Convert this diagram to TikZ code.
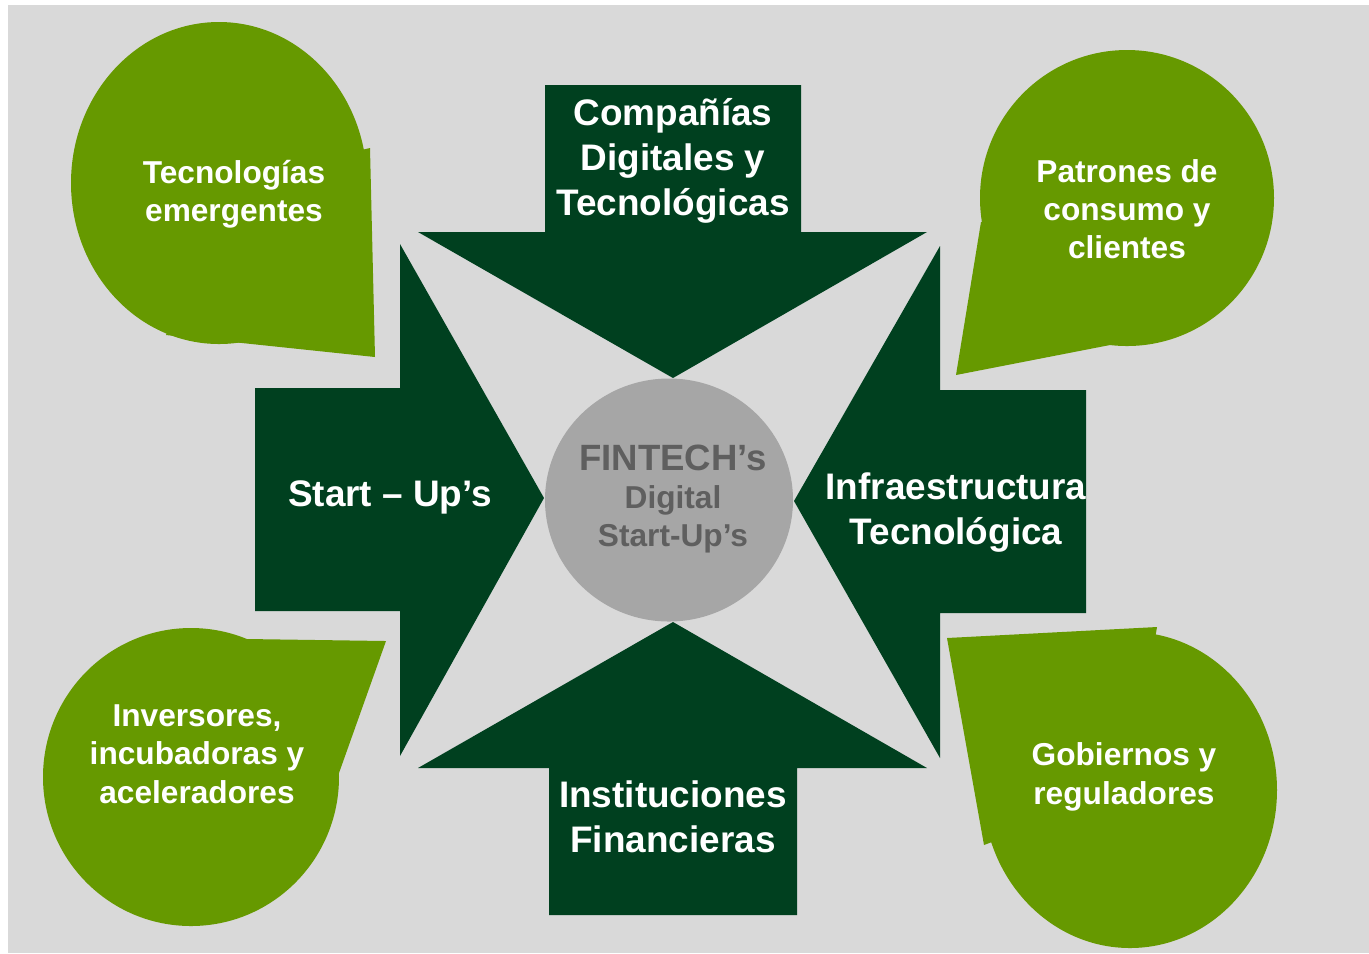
\documentclass[tikz,border=0pt]{standalone}
\usepackage{fontspec}
\setmainfont{Liberation Sans}

\definecolor{fondo}{HTML}{D9D9D9}
\definecolor{verdeosc}{HTML}{00401F}
\definecolor{verdeclaro}{HTML}{669900}
\definecolor{griscirc}{HTML}{A6A6A6}
\definecolor{textocirc}{HTML}{5F5F5F}

\tikzset{
	flecha/.style={fill=verdeosc},
	burbuja/.style={fill=verdeclaro},
	txtflecha/.style={text=white, align=center, font=\bfseries\fontsize{10.5}{12.8}\selectfont},
	txtburbuja/.style={text=white, align=center, font=\bfseries\fontsize{9}{10.9}\selectfont},
}

\begin{document}
\begin{tikzpicture}[x=0.01cm, y=-0.01cm]
	\useasboundingbox (0,0) rectangle (1369,953);
	\fill[fondo] (8,5) rectangle (1369,953);
	% burbujas
	\fill[burbuja] (219,183) ellipse [x radius=148, y radius=161];
	\fill[burbuja] (219,183) -- (370,148) -- (375,357) -- (166,335) -- cycle;
	\fill[burbuja] (1127,198) ellipse [x radius=147, y radius=148];
	\fill[burbuja] (1127,198) -- (981,222) -- (956,375) -- (1110,345) -- cycle;
	\fill[burbuja] (191,777) ellipse [x radius=148, y radius=149];
	\fill[burbuja] (191,777) -- (247,639) -- (386,641) -- (339,773) -- cycle;
	\fill[burbuja] (1130,790) ellipse [x radius=147, y radius=158];
	\fill[burbuja] (1130,790) -- (1157,627) -- (947,638) -- (984,845) -- cycle;
	% flechas
	\fill[flecha] (545,85) -- (801,85) -- (801,232) -- (927,232) -- (673,378) coordinate (arriba) -- (418,232) -- (545,232) -- cycle;
	\fill[flecha] (549,915) -- (797,915) -- (797,768) -- (927,768) -- (673,622) coordinate (abajo) -- (418,768) -- (549,768) -- cycle;
	\fill[flecha] (255,388) -- (400,388) -- (400,244) -- (544,498) coordinate (izq) -- (400,756) -- (400,611) -- (255,611) -- cycle;
	\fill[flecha] (1086,390) -- (940,390) -- (940,246) -- (794,501) coordinate (der) -- (940,758) -- (940,613) -- (1086,613) -- cycle;
	% centro
	\fill[griscirc] (669,500) ellipse [x radius=124, y radius=121.5];
	\node[text=textocirc, align=center, font=\bfseries\fontsize{9}{10.8}\selectfont] (fintech) at (673,499)
		{{\fontsize{10.4}{11.4}\selectfont FINTECH’s}\\Digital\\Start-Up’s};
	% textos
	\node[txtflecha] (companias) at (673,161) {Compañías\\Digitales y\\Tecnológicas};
	\node[txtflecha] (instituciones) at (673,817) {Instituciones\\Financieras};
	\node[txtflecha] (startups) at (390,497) {Start – Up’s};
	\node[txtflecha] (infra) at (956,513) {Infraestructura\\Tecnológica};
	\node[txtburbuja] (tecno) at (234,194) {Tecnologías\\emergentes};
	\node[txtburbuja] (patrones) at (1127,209) {Patrones de\\consumo y\\clientes};
	\node[txtburbuja] (inversores) at (197,754) {Inversores,\\incubadoras y\\aceleradores};
	\node[txtburbuja] (gobiernos) at (1124,777) {Gobiernos y\\reguladores};
\end{tikzpicture}
\end{document}
